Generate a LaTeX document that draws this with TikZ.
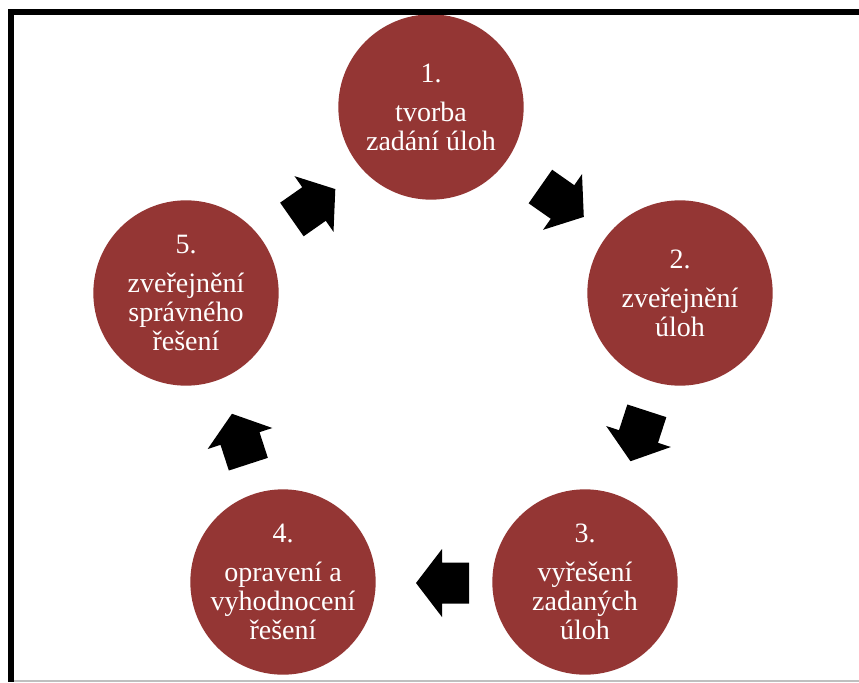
\documentclass[tikz,border=0pt]{standalone}
\usepackage{fontspec}
\setmainfont{Liberation Serif}
\usetikzlibrary{calc}
\definecolor{stepred}{HTML}{943634}
\begin{document}
\begin{tikzpicture}[x=0.75pt,y=-0.75pt,
  stepcircle/.style={circle,fill=stepred,draw=none,minimum size=139pt,inner sep=0pt,
    text=white,align=center,font=\fontsize{21}{21.75}\selectfont},
  blockarrow/.pic={\fill[black] (-27,-20.5) -- (0,-20.5) -- (0,-34) -- (26,0) -- (0,34) -- (0,20.5) -- (-27,20.5) -- cycle;}]
\useasboundingbox (0,0) rectangle (859,682);
\clip (0,0) rectangle (859,682);
\fill[white] (0,0) rectangle (859,682);
\draw[black!25, line width=1.5pt] (14,680.5) -- (859,680.5);
\node[stepcircle] (c1) at (431,107) {1.\\[7.5pt]tvorba\\zadání úloh};
\node[stepcircle] (c2) at (680,293) {2.\\[7.5pt]zveřejnění\\úloh};
\node[stepcircle] (c3) at (585,582) {3.\\[7.5pt]vyřešení\\zadaných\\úloh};
\node[stepcircle] (c4) at (283,582) {4.\\[7.5pt]opravení a\\vyhodnocení\\řešení};
\node[stepcircle] (c5) at (186,293) {5.\\[7.5pt]zveřejnění\\správného\\řešení};
\pic[rotate=-35] at ($(c1)!0.5!(c2)+(7,2)$) {blockarrow};
\pic[rotate=-108] at ($(c2)!0.5!(c3)+(6,-1)$) {blockarrow};
\pic[rotate=180] at ($(c3)!0.5!(c4)+(8,1)$) {blockarrow};
\pic[rotate=108] at ($(c4)!0.5!(c5)+(5.5,1)$) {blockarrow};
\pic[rotate=35] at ($(c5)!0.5!(c1)+(5.5,4)$) {blockarrow};
\fill[black] (8,9) rectangle (859,15);
\fill[black] (8,9) rectangle (14,682);
\end{tikzpicture}
\end{document}
